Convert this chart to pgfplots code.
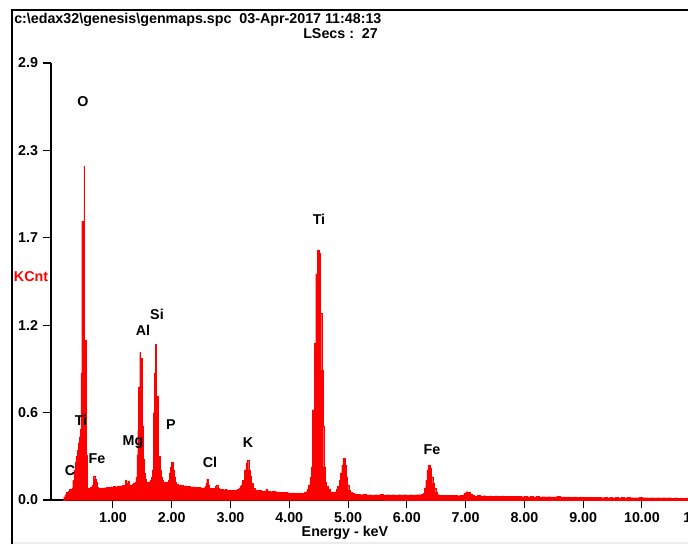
\documentclass[border=0pt]{standalone}
\usepackage{fontspec}
\setmainfont{Liberation Sans}
\usepackage{pgfplots}
\pgfplotsset{compat=1.18}
\begin{document}
\fontsize{10.7}{13}\selectfont
\begin{tikzpicture}[x=0.75pt,y=0.75pt]
\fill[gray!15] (13,0) rectangle (688,2);
\draw[line width=1.5pt] (12,0) -- (12,534) -- (690,534);
\node[anchor=base west,inner sep=0,font=\bfseries] at (14,520) {c:\textbackslash edax32\textbackslash genesis\textbackslash genmaps.spc\ \ 03-Apr-2017 11:48:13};
\node[anchor=base west,inner sep=0,font=\bfseries] at (303,505) {LSecs :\ \ 27};
\begin{axis}[
  at={(38.25pt,33pt)}, anchor=south west,
  scale only axis, width=496.1pt, height=327.75pt,
  xmin=-0.054, xmax=11.2, ymin=0, ymax=2.9,
  axis x line*=bottom, axis y line*=left,
  axis line style={line width=1.1pt,black},
  tick align=outside, major tick length=6pt,
  tick style={line width=0.8pt,black},
  xtick={1,2,3,4,5,6,7,8,9,10,11},
  xticklabels={1.00,2.00,3.00,4.00,5.00,6.00,7.00,8.00,9.00,10.00,11.00},
  ytick={0,0.58,1.16,1.74,2.32,2.9},
  yticklabels={0.0,0.6,1.2,1.7,2.3,2.9},
  tick label style={font=\bfseries},
  xlabel={Energy - keV},
  every axis x label/.style={at={(axis description cs:0.4444,0)},anchor=center,yshift=-24.75pt,font=\bfseries},
  ylabel={KCnt},
  every axis y label/.style={at={(axis description cs:0,0.5103)},anchor=center,xshift=-15pt,text=red,font=\bfseries},
  clip=true,
]
\addplot[const plot, fill=red, draw=red, line width=0.1pt] table {
x y
0.14 0.00
0.16 0.02
0.18 0.035
0.20 0.05
0.22 0.045
0.24 0.06
0.26 0.07
0.28 0.065
0.30 0.08
0.315 0.13
0.335 0.2
0.355 0.25
0.37 0.29
0.39 0.33
0.41 0.38
0.43 0.42
0.445 0.47
0.455 0.84
0.467 1.85
0.505 2.216
0.517 1.06
0.541 0.30
0.565 0.08
0.59 0.075
0.61 0.085
0.63 0.08
0.65 0.1
0.67 0.16
0.69 0.14
0.71 0.12
0.725 0.085
0.75 0.07
0.77 0.078
0.79 0.072
0.81 0.08
0.83 0.075
0.85 0.082
0.87 0.078
0.89 0.085
0.91 0.08
0.93 0.086
0.95 0.082
0.97 0.088
0.99 0.083
1.01 0.09
1.03 0.085
1.05 0.088
1.07 0.092
1.09 0.087
1.11 0.094
1.13 0.09
1.15 0.096
1.17 0.092
1.19 0.1
1.21 0.13
1.23 0.11
1.25 0.125
1.27 0.095
1.29 0.1
1.31 0.098
1.33 0.105
1.35 0.11
1.37 0.12
1.39 0.15
1.405 0.3
1.42 0.46
1.435 0.75
1.455 0.98
1.467 0.94
1.49 0.49
1.51 0.27
1.53 0.18
1.55 0.14
1.57 0.12
1.59 0.11
1.61 0.12
1.63 0.13
1.65 0.15
1.665 0.2
1.685 0.58
1.705 0.84
1.72 1.035
1.74 0.69
1.765 0.45
1.775 0.29
1.80 0.2
1.82 0.15
1.84 0.13
1.86 0.12
1.88 0.115
1.90 0.12
1.92 0.11
1.94 0.13
1.96 0.18
1.975 0.22
1.99 0.25
2.02 0.2
2.04 0.15
2.06 0.12
2.08 0.105
2.10 0.1
2.12 0.095
2.14 0.1
2.16 0.092
2.18 0.098
2.20 0.09
2.22 0.095
2.24 0.088
2.26 0.092
2.28 0.087
2.30 0.09
2.32 0.085
2.34 0.089
2.36 0.083
2.38 0.087
2.40 0.082
2.42 0.085
2.44 0.08
2.46 0.084
2.48 0.079
2.50 0.082
2.52 0.078
2.54 0.08
2.56 0.09
2.58 0.11
2.595 0.14
2.62 0.1
2.64 0.08
2.66 0.078
2.68 0.075
2.70 0.08
2.72 0.076
2.74 0.09
2.76 0.1
2.78 0.082
2.80 0.074
2.82 0.072
2.84 0.07
2.86 0.073
2.88 0.068
2.90 0.07
2.92 0.066
2.94 0.069
2.96 0.065
2.98 0.068
3.00 0.064
3.02 0.066
3.04 0.063
3.06 0.066
3.08 0.064
3.10 0.068
3.12 0.07
3.14 0.078
3.16 0.09
3.18 0.1
3.20 0.13
3.23 0.2
3.26 0.245
3.28 0.265
3.31 0.2
3.335 0.16
3.35 0.11
3.38 0.08
3.41 0.066
3.44 0.062
3.46 0.065
3.48 0.06
3.50 0.063
3.52 0.058
3.54 0.061
3.56 0.057
3.58 0.06
3.60 0.072
3.62 0.058
3.64 0.056
3.66 0.06
3.68 0.055
3.70 0.058
3.72 0.054
3.74 0.057
3.76 0.053
3.78 0.055
3.80 0.052
3.82 0.054
3.84 0.05
3.86 0.053
3.88 0.049
3.90 0.052
3.92 0.048
3.94 0.05
3.96 0.047
3.98 0.049
4.00 0.046
4.02 0.048
4.04 0.045
4.06 0.047
4.08 0.044
4.10 0.046
4.12 0.044
4.14 0.045
4.16 0.043
4.18 0.045
4.20 0.044
4.22 0.046
4.24 0.045
4.26 0.05
4.28 0.055
4.30 0.07
4.32 0.1
4.35 0.15
4.37 0.22
4.395 0.6
4.425 1.04
4.45 1.5
4.48 1.66
4.505 1.64
4.53 1.24
4.55 0.86
4.57 0.49
4.585 0.22
4.61 0.12
4.63 0.09
4.66 0.07
4.69 0.055
4.72 0.045
4.75 0.05
4.78 0.055
4.80 0.07
4.82 0.09
4.85 0.13
4.87 0.18
4.89 0.23
4.91 0.277
4.95 0.23
4.97 0.15
4.99 0.1
5.01 0.066
5.04 0.05
5.07 0.044
5.10 0.04
5.13 0.036
5.16 0.038
5.20 0.035
5.25 0.037
5.30 0.034
5.35 0.036
5.40 0.033
5.45 0.036
5.50 0.034
5.55 0.037
5.60 0.033
5.65 0.035
5.70 0.034
5.75 0.036
5.80 0.033
5.85 0.035
5.90 0.034
5.95 0.036
6.00 0.033
6.05 0.035
6.10 0.034
6.15 0.036
6.20 0.035
6.25 0.038
6.28 0.044
6.30 0.08
6.32 0.13
6.34 0.2
6.36 0.232
6.39 0.21
6.41 0.155
6.44 0.11
6.46 0.078
6.49 0.05
6.52 0.035
6.56 0.031
6.60 0.033
6.65 0.03
6.70 0.032
6.75 0.03
6.80 0.031
6.85 0.029
6.90 0.032
6.95 0.035
6.98 0.045
7.00 0.055
7.04 0.05
7.08 0.04
7.11 0.03
7.15 0.028
7.20 0.03
7.25 0.027
7.30 0.029
7.35 0.026
7.40 0.028
7.45 0.026
7.50 0.027
7.55 0.025
7.60 0.027
7.65 0.024
7.70 0.026
7.75 0.024
7.80 0.025
7.85 0.023
7.90 0.025
7.95 0.022
8.00 0.024
8.05 0.022
8.10 0.023
8.15 0.021
8.20 0.023
8.25 0.021
8.30 0.022
8.35 0.02
8.40 0.022
8.45 0.02
8.50 0.021
8.55 0.025
8.60 0.02
8.65 0.021
8.70 0.019
8.75 0.021
8.80 0.019
8.85 0.02
8.90 0.018
8.95 0.02
9.00 0.018
9.05 0.019
9.10 0.017
9.15 0.019
9.20 0.017
9.25 0.018
9.30 0.016
9.35 0.018
9.40 0.016
9.45 0.017
9.50 0.016
9.55 0.018
9.60 0.016
9.65 0.017
9.70 0.015
9.75 0.017
9.80 0.015
9.85 0.016
9.90 0.015
9.95 0.017
10.00 0.015
10.05 0.016
10.10 0.014
10.15 0.016
10.20 0.014
10.25 0.015
10.30 0.014
10.35 0.016
10.40 0.014
10.45 0.015
10.50 0.013
10.55 0.015
10.60 0.013
10.65 0.014
10.70 0.013
10.75 0.014
10.80 0.013
10.85 0.014
10.90 0.013
11.00 0.013
11.20 0.013
} \closedcycle;
\begin{scope}[every node/.style={font=\bfseries,anchor=center,inner sep=0}]
\node at (axis cs:0.49,2.641) {O};
\node at (axis cs:0.456,0.531) {Ti};
\node at (axis cs:0.269,0.192) {C};
\node at (axis cs:0.728,0.272) {Fe};
\node at (axis cs:1.341,0.385) {Mg};
\node at (axis cs:1.510,1.128) {Al};
\node at (axis cs:1.749,1.234) {Si};
\node at (axis cs:1.987,0.498) {P};
\node at (axis cs:2.650,0.252) {Cl};
\node at (axis cs:3.297,0.378) {K};
\node at (axis cs:4.505,1.865) {Ti};
\node at (axis cs:6.427,0.332) {Fe};
\end{scope}
\end{axis}
\pgfresetboundingbox
\path[use as bounding box] (0,0) rectangle (688,544);
\end{tikzpicture}
\end{document}
